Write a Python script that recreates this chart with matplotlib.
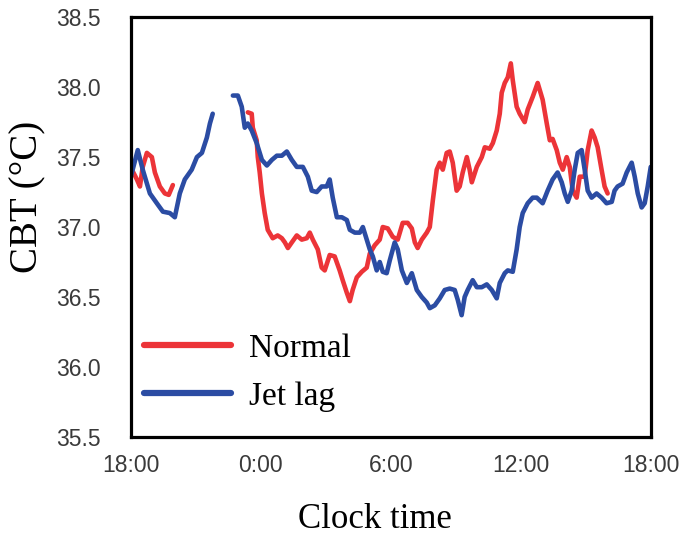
import numpy as np
import matplotlib
matplotlib.use("Agg")
import matplotlib.pyplot as plt

# Hours elapsed since 18:00 (day 1) and core body temperature (deg C)
normal_hours = [0.05, 0.28, 0.42, 0.55, 0.74, 0.97, 1.11, 1.34, 1.57, 1.75, 1.94,
                np.nan,
                5.40, 5.58, 5.63, 5.81, 5.86, 5.95, 6.05, 6.18, 6.32, 6.55, 6.78, 6.97,
                7.11, 7.25, 7.43, 7.66, 7.89, 8.12, 8.26, 8.40, 8.63, 8.81, 8.95, 9.18,
                9.41, 9.64, 9.78, 9.97, 10.11, 10.24, 10.43, 10.66, 10.89, 11.03, 11.26,
                11.49, 11.63, 11.86, 12.09, 12.32, 12.55, 12.78, 12.97, 13.11, 13.24,
                13.43, 13.66, 13.80, 13.94, 14.12, 14.26, 14.40, 14.58, 14.72, 14.86,
                15.04, 15.18, 15.32, 15.51, 15.64, 15.74, 15.97, 16.20, 16.34, 16.57,
                16.71, 16.89, 17.03, 17.12, 17.26, 17.40, 17.54, 17.63, 17.81, 17.95,
                18.18, 18.32, 18.55, 18.78, 19.01, 19.20, 19.34, 19.47, 19.66, 19.80,
                19.94, 20.12, 20.26, 20.40, 20.58, 20.72, 20.95, 21.09, 21.27, 21.41,
                21.55, 21.73, 21.87, 22.01]
normal_temp = [37.41, 37.34, 37.29, 37.43, 37.53, 37.50, 37.39, 37.29, 37.24, 37.23, 37.30,
               np.nan,
               37.82, 37.81, 37.71, 37.62, 37.50, 37.39, 37.24, 37.10, 36.98, 36.92, 36.94, 36.92,
               36.89, 36.85, 36.89, 36.94, 36.91, 36.92, 36.96, 36.91, 36.84, 36.71, 36.69, 36.80,
               36.79, 36.69, 36.62, 36.53, 36.47, 36.55, 36.64, 36.68, 36.71, 36.81, 36.87,
               36.91, 37.00, 36.99, 36.93, 36.91, 37.03, 37.03, 36.99, 36.89, 36.85,
               36.91, 36.96, 37.00, 37.19, 37.41, 37.46, 37.41, 37.53, 37.54, 37.46,
               37.26, 37.29, 37.39, 37.50, 37.41, 37.32, 37.43, 37.50, 37.57, 37.56,
               37.60, 37.69, 37.81, 37.96, 38.03, 38.07, 38.17, 38.05, 37.86, 37.81,
               37.75, 37.84, 37.93, 38.03, 37.91, 37.74, 37.62, 37.63, 37.55, 37.46,
               37.41, 37.50, 37.43, 37.26, 37.21, 37.36, 37.36, 37.55, 37.69, 37.64,
               37.57, 37.41, 37.29, 37.24]

jetlag_hours = [0.00, 0.32, 0.55, 0.88, 1.20, 1.48, 1.80, 2.03, 2.26, 2.49, 2.81, 3.05,
                3.28, 3.51, 3.65, 3.78,
                np.nan,
                4.71, 4.94, 5.12, 5.26, 5.40, 5.58, 5.81, 6.05, 6.28, 6.51, 6.74, 6.97,
                7.20, 7.43, 7.66, 7.94, 8.17, 8.35, 8.58, 8.81, 9.04, 9.18, 9.32, 9.51,
                9.74, 9.97, 10.11, 10.34, 10.57, 10.71, 10.89, 11.03, 11.17, 11.35, 11.49,
                11.63, 11.81, 11.95, 12.18, 12.32, 12.51, 12.74, 12.97, 13.20, 13.43,
                13.66, 13.80, 14.03, 14.26, 14.49, 14.72, 14.95, 15.09, 15.27, 15.41,
                15.55, 15.78, 15.97, 16.20, 16.43, 16.66, 16.89, 17.03, 17.26, 17.40,
                17.63, 17.81, 17.95, 18.09, 18.32, 18.55, 18.74, 19.01, 19.24, 19.47,
                19.70, 19.89, 20.03, 20.17, 20.35, 20.49, 20.63, 20.81, 20.95, 21.09,
                21.27, 21.50, 21.73, 21.96, 22.20, 22.33, 22.47, 22.70, 22.89, 23.12,
                23.26, 23.40, 23.58, 23.72, 23.86, 24.00]
jetlag_temp = [37.36, 37.55, 37.41, 37.24, 37.17, 37.11, 37.10, 37.07, 37.24, 37.34, 37.41, 37.50,
               37.53, 37.64, 37.74, 37.81,
               np.nan,
               37.94, 37.94, 37.86, 37.71, 37.74, 37.69, 37.60, 37.48, 37.44, 37.48, 37.51, 37.51,
               37.54, 37.48, 37.43, 37.43, 37.36, 37.26, 37.25, 37.29, 37.29, 37.34, 37.21, 37.07,
               37.07, 37.05, 36.98, 36.96, 36.96, 37.00, 36.91, 36.84, 36.79, 36.69, 36.75,
               36.68, 36.67, 36.76, 36.89, 36.84, 36.69, 36.60, 36.67, 36.55, 36.50,
               36.46, 36.42, 36.44, 36.49, 36.55, 36.56, 36.55, 36.48, 36.37, 36.50,
               36.55, 36.62, 36.57, 36.57, 36.59, 36.55, 36.49, 36.60, 36.67, 36.69,
               36.68, 36.84, 37.00, 37.10, 37.17, 37.21, 37.21, 37.17, 37.26, 37.34,
               37.39, 37.32, 37.24, 37.18, 37.26, 37.41, 37.53, 37.55, 37.41, 37.26,
               37.21, 37.24, 37.21, 37.17, 37.18, 37.26, 37.29, 37.31, 37.39, 37.46,
               37.36, 37.24, 37.14, 37.17, 37.29, 37.43]

tick_hours = [0, 6, 12, 18, 24]
tick_labels = ["18:00", "0:00", "6:00", "12:00", "18:00"]
y_ticks = [35.5, 36.0, 36.5, 37.0, 37.5, 38.0, 38.5]
series_names = ["Normal", "Jet lag"]

RED = "#EC3438"
BLUE = "#2B4CA3"
SERIF = ["Liberation Serif", "DejaVu Serif"]
SANS = ["Liberation Sans", "DejaVu Sans"]

fig = plt.figure(figsize=(6.85, 5.38), dpi=100)
ax = fig.add_axes([0.191, 0.188, 0.759, 0.780])

ax.plot(normal_hours, normal_temp, color=RED, lw=3.3, label=series_names[0],
        solid_joinstyle="round", solid_capstyle="round")
ax.plot(jetlag_hours, jetlag_temp, color=BLUE, lw=3.3, label=series_names[1],
        solid_joinstyle="round", solid_capstyle="round")

ax.set_xlim(0, 24)
ax.set_ylim(35.5, 38.5)
ax.set_xticks(tick_hours)
ax.set_xticklabels(tick_labels)
ax.set_yticks(y_ticks)
ax.set_yticklabels([f"{v:.1f}" for v in y_ticks])

ax.tick_params(axis="both", length=0, labelsize=16.5, labelcolor="#3a3a3a")
ax.tick_params(axis="y", pad=22)
ax.tick_params(axis="x", pad=12)
for lab in ax.get_xticklabels() + ax.get_yticklabels():
    lab.set_family(SANS)

for sp in ax.spines.values():
    sp.set_linewidth(2.3)
    sp.set_color("black")

ax.set_xlabel("Clock time", family=SERIF, fontsize=25)
ax.xaxis.set_label_coords(0.469, -0.198)
ax.xaxis.label.set_va("center")
ax.set_ylabel("CBT (°C)", family=SERIF, fontsize=28)
ax.yaxis.set_label_coords(-0.198, 0.571)
ax.yaxis.label.set_va("center")

leg = ax.legend(loc="lower left", bbox_to_anchor=(0.0, 0.028), frameon=False,
                prop={"family": SERIF, "size": 24}, handlelength=2.6,
                handletextpad=0.55, labelspacing=0.52, borderaxespad=0.0)
for h in leg.get_lines():
    h.set_linewidth(4.5)

fig.savefig("out.png", dpi=100)
